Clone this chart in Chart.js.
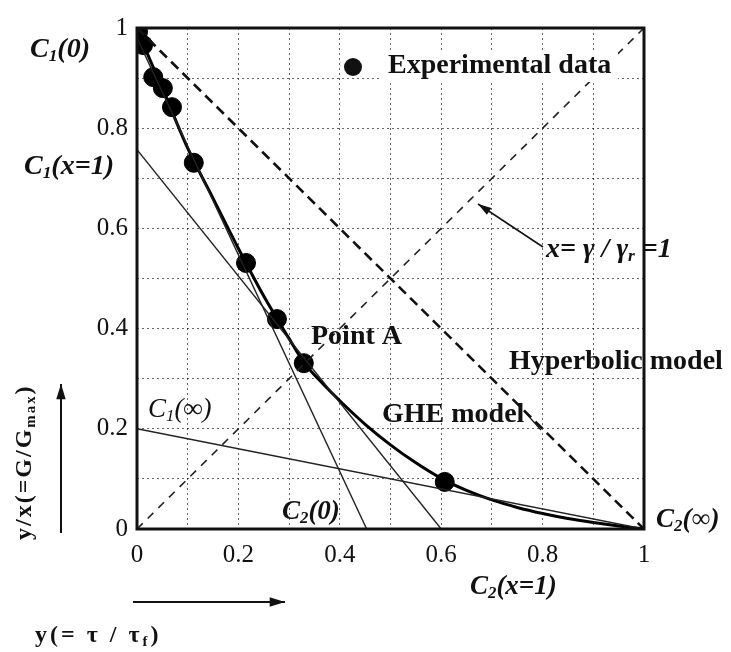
<!DOCTYPE html>
<html lang="en">
<head>
    <meta charset="UTF-8">
    <title>GHE model vs hyperbolic model</title>
    <script src="https://cdn.jsdelivr.net/npm/chart.js"></script>
    <style>
        body { margin: 0; background: #fff; }
        canvas { display: block; }
    </style>
</head>
<body>
    <canvas id="ghe" width="731" height="652"></canvas>

    <script>
        // tick labels (every second grid line gets one)
        var xTickLabels = ['0', '0.2', '0.4', '0.6', '0.8', '1'];
        var yTickLabels = ['0', '0.2', '0.4', '0.6', '0.8', '1'];

        // experimental points
        var expX = [0.002, 0.012, 0.032, 0.051, 0.069, 0.112, 0.215, 0.276, 0.329, 0.607];
        var expY = [0.992, 0.966, 0.902, 0.880, 0.842, 0.731, 0.531, 0.419, 0.331, 0.094];

        // GHE model curve
        var gheX = [0, 0.02, 0.05, 0.1, 0.15, 0.2, 0.25, 0.3, 0.33, 0.36, 0.4, 0.45, 0.5, 0.55, 0.6, 0.65, 0.7, 0.75, 0.8, 0.85, 0.9, 0.95, 1];
        var gheY = [1, 0.95, 0.88, 0.76, 0.66, 0.56, 0.465, 0.38, 0.331, 0.297, 0.256, 0.209, 0.168, 0.132, 0.101, 0.077, 0.058, 0.043, 0.031, 0.021, 0.013, 0.006, 0];

        // straight lines: C1(0)-C2(0), C1(x=1)-C2(x=1), C1(inf)-C2(inf)
        var lineZeroX = [0, 0.453], lineZeroY = [0.98, 0];
        var lineOneX = [0, 0.6], lineOneY = [0.757, 0];
        var lineInfX = [0, 1], lineInfY = [0.2, 0];

        // hyperbolic model and x = 1 diagonal
        var hypX = [0, 1], hypY = [1, 0];
        var diagX = [0, 1], diagY = [0, 1];

        function pts(xs, ys) {
            return xs.map(function (x, i) { return { x: x, y: ys[i] }; });
        }

        var serif = '"Liberation Serif", "DejaVu Serif", serif';

        // draws text made of [string, isSubscript] parts, returns end x
        function rich(ctx, parts, x, y, size, style, spacing) {
            ctx.textBaseline = 'middle';
            ctx.textAlign = 'left';
            ctx.letterSpacing = (spacing || 0) + 'px';
            parts.forEach(function (p) {
                var s = p[1] ? size * 0.62 : size;
                ctx.font = style + ' ' + s + 'px ' + serif;
                ctx.fillText(p[0], x, p[1] ? y + size * 0.25 : y);
                x += ctx.measureText(p[0]).width;
            });
            ctx.letterSpacing = '0px';
            return x;
        }

        function arrow(ctx, x1, y1, x2, y2, head) {
            var a = Math.atan2(y2 - y1, x2 - x1);
            ctx.beginPath();
            ctx.moveTo(x1, y1);
            ctx.lineTo(x2, y2);
            ctx.stroke();
            ctx.beginPath();
            ctx.moveTo(x2, y2);
            ctx.lineTo(x2 - head * Math.cos(a - 0.3), y2 - head * Math.sin(a - 0.3));
            ctx.lineTo(x2 - head * Math.cos(a + 0.3), y2 - head * Math.sin(a + 0.3));
            ctx.closePath();
            ctx.fill();
        }

        var annotations = {
            id: 'annotations',
            afterDatasetsDraw: function (chart) {
                var ctx = chart.ctx;
                var a = chart.chartArea;
                ctx.save();
                ctx.fillStyle = '#111';
                ctx.strokeStyle = '#111';

                // legend box hides the grid behind it
                ctx.fillStyle = '#fff';
                ctx.fillRect(382, 52, 236, 30);
                ctx.fillStyle = '#111';
                ctx.beginPath();
                ctx.arc(353, 67, 9, 0, Math.PI * 2);
                ctx.fill();
                rich(ctx, [['Experimental data']], 388, 66, 28, 'bold');

                // intercept labels
                rich(ctx, [['C'], ['1', 1], ['(0)']], 30, 50, 28, 'italic bold');
                rich(ctx, [['C'], ['1', 1], ['(x=1)']], 24, 167, 28, 'italic bold');
                rich(ctx, [['C'], ['1', 1], ['(\u221e)']], 148, 410, 27, 'italic');
                rich(ctx, [['C'], ['2', 1], ['(0)']], 282, 512, 27, 'italic bold');
                rich(ctx, [['C'], ['2', 1], ['(\u221e)']], 656, 520, 27, 'italic bold');
                rich(ctx, [['C'], ['2', 1], ['(x=1)']], 470, 587, 27, 'italic bold');

                rich(ctx, [['Point A']], 311, 337, 28, 'bold');
                rich(ctx, [['GHE model']], 382, 415, 28, 'bold');
                rich(ctx, [['Hyperbolic model']], 509, 362, 28, 'bold');
                rich(ctx, [['x= \u03b3 / \u03b3'], ['r', 1], [' =1']], 546, 250, 28, 'italic bold');

                // leader line after GHE label
                ctx.lineWidth = 1.2;
                ctx.beginPath();
                ctx.moveTo(524, 411);
                ctx.lineTo(541, 430);
                ctx.stroke();

                // arrow pointing to x = 1 line
                ctx.lineWidth = 1.5;
                arrow(ctx, 543, 247, 478, 204, 14);

                // axis titles and their arrows
                ctx.lineWidth = 2;
                arrow(ctx, 61, 533, 61, 384, 16);
                arrow(ctx, 133, 602, 285, 602, 16);

                ctx.save();
                ctx.translate(25, 540);
                ctx.rotate(-Math.PI / 2);
                rich(ctx, [['y/x(=G/G'], ['max', 1], [')']], 0, 0, 24, 'bold', 2);
                ctx.restore();

                rich(ctx, [['y(= \u03c4 / \u03c4'], ['f', 1], [')']], 35, 636, 24, 'bold', 3);

                // plot frame on top
                ctx.lineWidth = 3;
                ctx.strokeRect(a.left, a.top, a.right - a.left, a.bottom - a.top);

                ctx.restore();
            }
        };

        function thin(label, xs, ys) {
            return {
                label: label,
                data: pts(xs, ys),
                showLine: true,
                borderColor: '#222',
                borderWidth: 1.4,
                pointRadius: 0,
                fill: false
            };
        }

        var ctx = document.getElementById('ghe').getContext('2d');
        var gheChart = new Chart(ctx, {
            type: 'scatter',
            data: {
                datasets: [
                    {
                        label: 'Hyperbolic model',
                        data: pts(hypX, hypY),
                        showLine: true,
                        borderColor: '#111',
                        borderWidth: 2.6,
                        borderDash: [10, 6],
                        pointRadius: 0
                    },
                    {
                        label: 'x = 1',
                        data: pts(diagX, diagY),
                        showLine: true,
                        borderColor: '#222',
                        borderWidth: 1.6,
                        borderDash: [8, 7],
                        pointRadius: 0
                    },
                    thin('C1(0)-C2(0)', lineZeroX, lineZeroY),
                    thin('C1(x=1)-C2(x=1)', lineOneX, lineOneY),
                    thin('C1(inf)-C2(inf)', lineInfX, lineInfY),
                    {
                        label: 'GHE model',
                        data: pts(gheX, gheY),
                        showLine: true,
                        borderColor: '#000',
                        borderWidth: 3,
                        cubicInterpolationMode: 'monotone',
                        pointRadius: 0
                    },
                    {
                        label: 'Experimental data',
                        data: pts(expX, expY),
                        showLine: false,
                        backgroundColor: '#000',
                        borderColor: '#000',
                        pointRadius: 9.5
                    }
                ]
            },
            options: {
                responsive: false,
                animation: false,
                layout: { padding: { top: 28, right: 87, left: 0, bottom: 0 } },
                plugins: {
                    legend: { display: false },
                    tooltip: { enabled: false }
                },
                scales: {
                    x: {
                        type: 'linear',
                        min: 0,
                        max: 1,
                        afterFit: function (s) { s.height = 123; },
                        border: { display: false, dash: [2, 3] },
                        grid: { color: 'rgba(0,0,0,0.6)', lineWidth: 1, drawTicks: false },
                        ticks: {
                            stepSize: 0.1,
                            autoSkip: false,
                            maxRotation: 0,
                            padding: 11,
                            color: '#111',
                            font: { family: serif, size: 25 },
                            callback: function (v, i) { return i % 2 === 0 ? xTickLabels[i / 2] : ''; }
                        }
                    },
                    y: {
                        type: 'linear',
                        min: 0,
                        max: 1,
                        afterFit: function (s) { s.width = 137; },
                        border: { display: false, dash: [2, 3] },
                        grid: { color: 'rgba(0,0,0,0.6)', lineWidth: 1, drawTicks: false },
                        ticks: {
                            stepSize: 0.1,
                            autoSkip: false,
                            padding: 9,
                            color: '#111',
                            font: { family: serif, size: 25 },
                            callback: function (v, i) { return i % 2 === 0 ? yTickLabels[i / 2] : ''; }
                        }
                    }
                }
            },
            plugins: [annotations]
        });
    </script>
</body>
</html>
